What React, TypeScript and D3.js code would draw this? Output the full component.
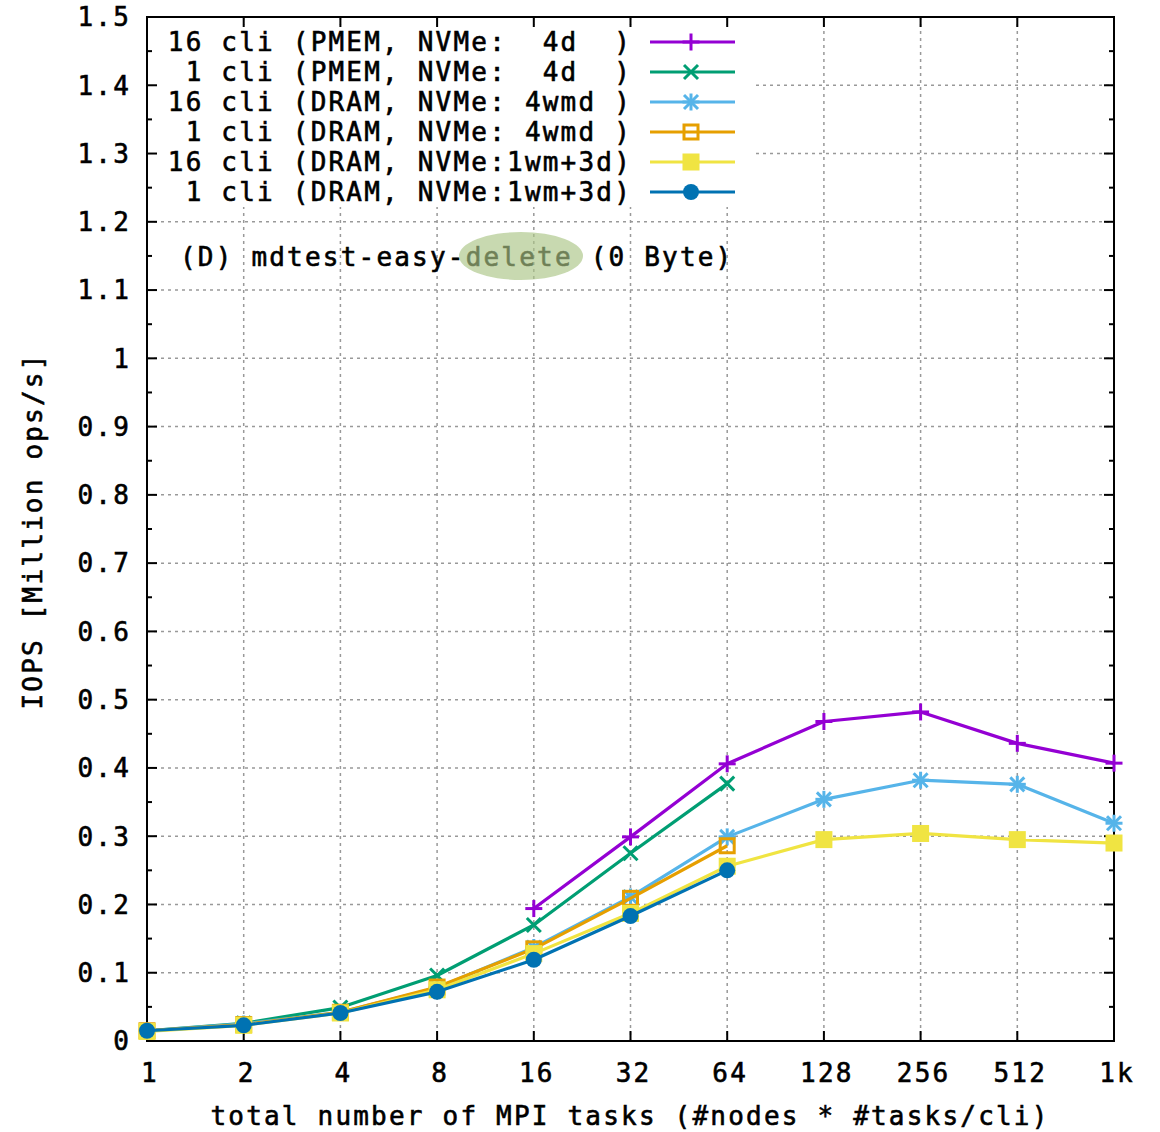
import React, { useEffect, useRef } from 'react';
import * as d3 from 'd3';

// x: total number of MPI tasks
const tasks = [1, 2, 4, 8, 16, 32, 64, 128, 256, 512, 1024];
const xTickLabels = ['1', '2', '4', '8', '16', '32', '64', '128', '256', '512', '1k'];
const yTicks = [0, 0.1, 0.2, 0.3, 0.4, 0.5, 0.6, 0.7, 0.8, 0.9, 1, 1.1, 1.2, 1.3, 1.4, 1.5];

const seriesNames = [
  '16 cli (PMEM, NVMe:  4d  )',
  ' 1 cli (PMEM, NVMe:  4d  )',
  '16 cli (DRAM, NVMe: 4wmd )',
  ' 1 cli (DRAM, NVMe: 4wmd )',
  '16 cli (DRAM, NVMe:1wm+3d)',
  ' 1 cli (DRAM, NVMe:1wm+3d)',
];
const seriesColors = ['#9400d3', '#009e73', '#56b4e9', '#e69f00', '#f0e442', '#0072b2'];
const seriesMarkers = ['plus', 'cross', 'star', 'box', 'fbox', 'circle'];

// IOPS [Million ops/s], null = no run
const pmem16 = [null, null, null, null, 0.194, 0.299, 0.406, 0.468, 0.482, 0.436, 0.407];
const pmem1 = [0.015, 0.026, 0.049, 0.096, 0.170, 0.275, 0.377, null, null, null, null];
const dram4wmd16 = [0.015, 0.025, 0.042, 0.078, 0.137, 0.211, 0.299, 0.354, 0.382, 0.376, 0.319];
const dram4wmd1 = [0.015, 0.024, 0.042, 0.079, 0.135, 0.209, 0.286, null, null, null, null];
const dram1wm16 = [0.014, 0.023, 0.041, 0.075, 0.128, 0.187, 0.256, 0.295, 0.304, 0.295, 0.290];
const dram1wm1 = [0.015, 0.023, 0.041, 0.072, 0.119, 0.183, 0.250, null, null, null, null];
const seriesValues = [pmem16, pmem1, dram4wmd16, dram4wmd1, dram1wm16, dram1wm1];

const FONT = '"DejaVu Sans Mono", monospace';

const App = () => {
  const ref = useRef<SVGSVGElement | null>(null);

  useEffect(() => {
    document.body.style.margin = '0';
    const svg = d3.select(ref.current);
    svg.selectAll('*').remove();

    const left = 147, right = 1114, top = 17, bottom = 1041;
    const x = d3.scaleLog().base(2).domain([1, 1024]).range([left, right]);
    const y = d3.scaleLinear().domain([0, 1.5]).range([bottom, top]);

    const text = (sel: any) =>
      sel.attr('font-family', FONT).attr('font-size', 26)
        .attr('letter-spacing', 2.2).attr('fill', '#000')
        .attr('stroke', '#000').attr('stroke-width', 0.6).style('white-space', 'pre');

    // grid
    const grid = svg.append('g').attr('stroke', '#999').attr('stroke-width', 1.5)
      .attr('stroke-dasharray', '3,4');
    grid.selectAll('.gx').data(tasks.slice(1, -1)).enter().append('line')
      .attr('x1', d => x(d)).attr('x2', d => x(d)).attr('y1', top).attr('y2', bottom);
    grid.selectAll('.gy').data(yTicks.slice(1, -1)).enter().append('line')
      .attr('x1', left).attr('x2', right).attr('y1', d => y(d)).attr('y2', d => y(d));

    // key box (opaque)
    svg.append('rect').attr('x', left + 1).attr('y', 25).attr('width', 606).attr('height', 182)
      .attr('fill', '#fff');

    // annotation
    svg.append('text').call(text).attr('x', 180).attr('y', 257).attr('dy', '0.36em')
      .text('(D) mdtest-easy-delete (0 Byte)');
    svg.append('ellipse').attr('cx', 521).attr('cy', 256).attr('rx', 62).attr('ry', 24)
      .attr('fill', '#aac585').attr('opacity', 0.65);

    // axes frame + ticks
    const axes = svg.append('g').attr('stroke', '#000').attr('stroke-width', 2);
    axes.append('rect').attr('x', left).attr('y', top).attr('width', right - left)
      .attr('height', bottom - top).attr('fill', 'none');
    const minorY = d3.range(0.05, 1.5, 0.1);
    yTicks.forEach(v => {
      axes.append('line').attr('x1', left).attr('x2', left + 10).attr('y1', y(v)).attr('y2', y(v));
      axes.append('line').attr('x1', right).attr('x2', right - 10).attr('y1', y(v)).attr('y2', y(v));
    });
    minorY.forEach(v => {
      axes.append('line').attr('x1', left).attr('x2', left + 5).attr('y1', y(v)).attr('y2', y(v));
      axes.append('line').attr('x1', right).attr('x2', right - 5).attr('y1', y(v)).attr('y2', y(v));
    });
    tasks.forEach(t => {
      axes.append('line').attr('x1', x(t)).attr('x2', x(t)).attr('y1', bottom).attr('y2', bottom - 10);
      axes.append('line').attr('x1', x(t)).attr('x2', x(t)).attr('y1', top).attr('y2', top + 10);
    });

    // tick labels
    svg.selectAll('.yl').data(yTicks).enter().append('text').call(text)
      .attr('x', 131).attr('y', d => y(d)).attr('dy', '0.36em').attr('text-anchor', 'end')
      .text(d => String(d));
    svg.selectAll('.xl').data(tasks).enter().append('text').call(text)
      .attr('x', (d, i) => x(d) + 3).attr('y', 1073).attr('dy', '0.36em').attr('text-anchor', 'middle')
      .text((d, i) => xTickLabels[i]);

    // axis titles
    svg.append('text').call(text).attr('x', 630).attr('y', 1116).attr('dy', '0.36em')
      .attr('text-anchor', 'middle').text('total number of MPI tasks (#nodes * #tasks/cli)');
    svg.append('text').call(text).attr('transform', 'translate(33,531) rotate(-90)')
      .attr('dy', '0.36em').attr('text-anchor', 'middle').text('IOPS [Million ops/s]');

    const drawMarker = (g: any, kind: string, cx: number, cy: number, color: string) => {
      const s = 8.5;
      if (kind === 'plus' || kind === 'star') {
        g.append('line').attr('x1', cx - s).attr('x2', cx + s).attr('y1', cy).attr('y2', cy)
          .attr('stroke', color).attr('stroke-width', 3);
        g.append('line').attr('x1', cx).attr('x2', cx).attr('y1', cy - s).attr('y2', cy + s)
          .attr('stroke', color).attr('stroke-width', 3);
      }
      if (kind === 'cross' || kind === 'star') {
        const c = 7;
        g.append('line').attr('x1', cx - c).attr('x2', cx + c).attr('y1', cy - c).attr('y2', cy + c)
          .attr('stroke', color).attr('stroke-width', 3);
        g.append('line').attr('x1', cx - c).attr('x2', cx + c).attr('y1', cy + c).attr('y2', cy - c)
          .attr('stroke', color).attr('stroke-width', 3);
      }
      if (kind === 'box') {
        g.append('rect').attr('x', cx - 7).attr('y', cy - 7).attr('width', 14).attr('height', 14)
          .attr('fill', 'none').attr('stroke', color).attr('stroke-width', 3);
      }
      if (kind === 'fbox') {
        g.append('rect').attr('x', cx - 8.5).attr('y', cy - 8.5).attr('width', 17).attr('height', 17)
          .attr('fill', color);
      }
      if (kind === 'circle') {
        g.append('circle').attr('cx', cx).attr('cy', cy).attr('r', 8).attr('fill', color);
      }
    };

    // series
    const line = d3.line<any>().defined(d => d.v != null).x(d => x(d.t)).y(d => y(d.v));
    seriesValues.forEach((vals, si) => {
      const pts = vals.map((v, i) => ({ t: tasks[i], v }));
      const g = svg.append('g');
      g.append('path').datum(pts).attr('d', line).attr('fill', 'none')
        .attr('stroke', seriesColors[si]).attr('stroke-width', 3.2).attr('stroke-linejoin', 'round');
      pts.filter(p => p.v != null).forEach(p =>
        drawMarker(g, seriesMarkers[si], x(p.t), y(p.v as number), seriesColors[si]));
    });

    // legend
    seriesNames.forEach((name, i) => {
      const ly = 42 + i * 30;
      const g = svg.append('g');
      g.append('text').call(text).attr('x', 632).attr('y', ly).attr('dy', '0.36em')
        .attr('text-anchor', 'end').text(name);
      g.append('line').attr('x1', 650).attr('x2', 735).attr('y1', ly).attr('y2', ly)
        .attr('stroke', seriesColors[i]).attr('stroke-width', 3.2);
      drawMarker(g, seriesMarkers[i], 691, ly, seriesColors[i]);
    });
  }, []);

  return (
    <div>
      <svg ref={ref} width={1160} height={1132} style={{ display: 'block', background: '#fff' }} />
    </div>
  );
};

export default App;
